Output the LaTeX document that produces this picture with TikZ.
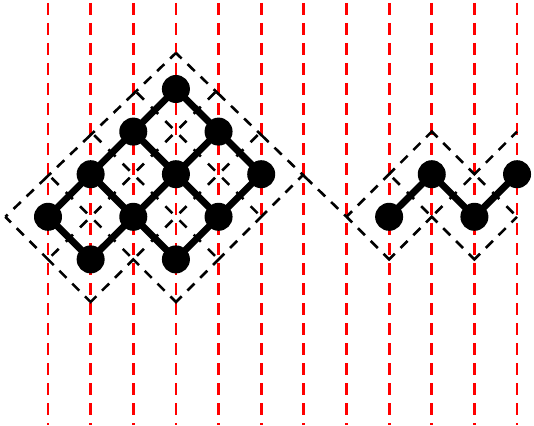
\documentclass[tikz,border=0pt]{standalone}
\pgfdeclarelayer{guides}
\pgfdeclarelayer{cells}
\pgfdeclarelayer{bonds}
\pgfsetlayers{guides,cells,bonds,main}
\begin{document}
\begin{tikzpicture}[x=1pt,y=-1pt,
  guide/.style={red, line width=2.8pt, dash pattern=on 12pt off 8pt},
  rim/.style={draw=black, line width=2.6pt,
    dash pattern=on 16pt off 8.1pt on 10pt off 8.1pt on 10pt off 8.1pt, dash phase=8pt},
  inner/.style={draw=black, line width=2.6pt, dash pattern=on 10pt off 10.1pt, dash phase=15pt},
  bond/.style={draw=black, line width=6.8pt},
  site/.style={circle, fill=black, minimum size=28pt, inner sep=0pt}]
\useasboundingbox (0,0) rectangle (534,425);
\clip (0,0) rectangle (534,425);

% lattice sites (column, row)
\foreach \c/\r in {3/0,2/1,4/1,1/2,3/2,5/2,0/3,2/3,4/3,1/4,3/4,8/3,9/2,10/3,11/2}
  \node[site] (s\c-\r) at ({48+42.64*\c},{89+42.6*\r}) {};

% plaquette corners (centres of the empty cells)
\foreach \a in {-1,...,12}
  \foreach \b in {-1,...,5}
    \coordinate (v\a-\b) at ({48+42.64*\a},{89+42.6*\b});
\coordinate (apex) at ([yshift=36pt]s3-0.center);

% vertical guide lines
\begin{pgfonlayer}{guides}
  \foreach \c in {0,...,11}
    \draw[guide] ({48+42.64*\c},3) -- ({48+42.64*\c},425);
\end{pgfonlayer}

\begin{pgfonlayer}{cells}
  % walls shared by two plaquettes
  \foreach \p/\q in {3-1/4-0,2-2/3-1,4-2/5-1,1-3/2-2,3-3/4-2,0-4/1-3,2-4/3-3,
                     2-0/3-1,1-1/2-2,3-1/4-2,0-2/1-3,2-2/3-3,4-2/5-3,1-3/2-4,3-3/4-4,
                     8-2/9-3,9-3/10-2,10-2/11-3}
    \draw[inner] (v\p) -- (v\q);
  % outer walls of the left block
  \draw[rim] (apex) -- (v-1-3);
  \draw[rim] (apex) -- (v7-3);
  \draw[rim] (v-1-3) -- (v0-4) -- (v1-5) -- (v2-4) -- (v3-5) -- (v4-4) -- (v5-3) -- (v6-2);
  % outer walls of the right block
  \draw[rim] (v7-3) -- (v8-2) -- (v9-1) -- (v10-2) -- (v11-1);
  \draw[rim] (v7-3) -- (v8-4) -- (v9-3) -- (v10-4) -- (v11-3);
\end{pgfonlayer}

% bonds between neighbouring sites
\begin{pgfonlayer}{bonds}
  \foreach \a/\b in {0-3/1-2,1-2/2-1,2-1/3-0,1-4/2-3,2-3/3-2,3-2/4-1,3-4/4-3,4-3/5-2,
                     3-0/4-1,4-1/5-2,2-1/3-2,3-2/4-3,1-2/2-3,2-3/3-4,0-3/1-4,
                     8-3/9-2,9-2/10-3,10-3/11-2}
    \draw[bond] (s\a.center) -- (s\b.center);
\end{pgfonlayer}
\end{tikzpicture}
\end{document}
